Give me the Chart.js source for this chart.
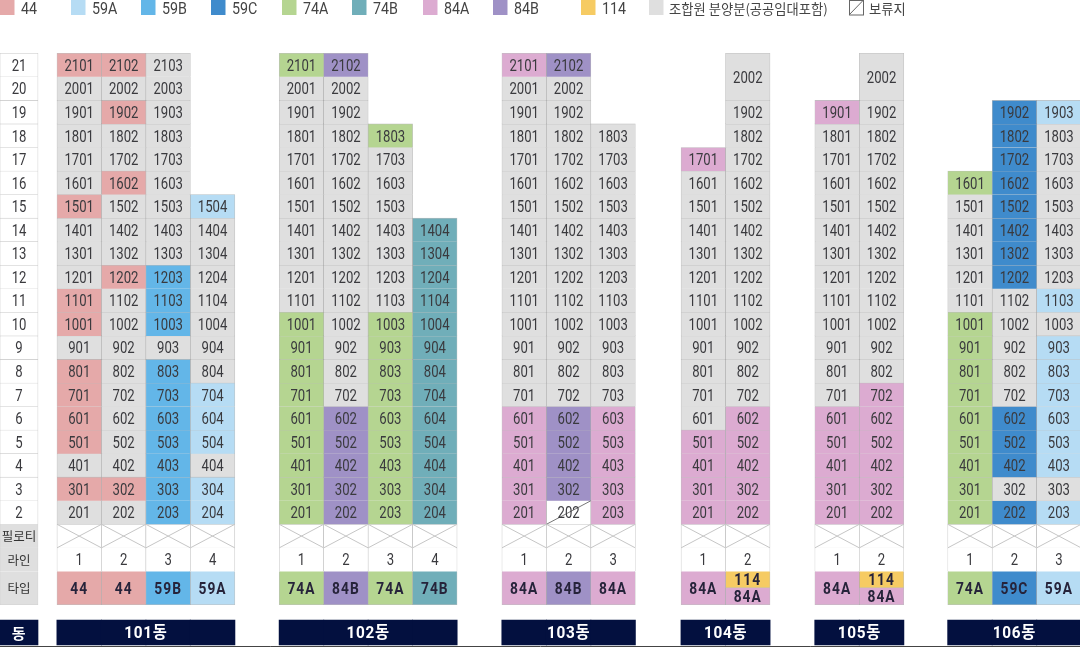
<!DOCTYPE html>
<html>
<head>
<meta charset="utf-8">
<script src="https://cdn.jsdelivr.net/npm/chart.js@4"></script>
<style>
  html, body { margin: 0; padding: 0; background: #fff; overflow: hidden; }
  canvas { display: block; }
</style>
</head>
<body>
<canvas id="myChart" width="1080" height="647"></canvas>
<script>
// unit types per line, listed from floor 2 upward. G = 조합원, H = 보류지, GG = two-floor cell
const line1011 = ['G','44','G','44','44','44','44','G','44','44','G','G','G','44','G','G','G','G','G','44'];
const line1012 = ['G','44','G','G','G','G','G','G','G','G','44','G','G','G','44','G','G','44','G','44'];
const line1013 = ['59B','59B','59B','59B','59B','59B','59B','G','59B','59B','59B','G','G','G','G','G','G','G','G','G'];
const line1014 = ['59A','59A','G','59A','59A','59A','G','G','G','G','G','G','G','59A'];

const line1021 = ['74A','74A','74A','74A','74A','74A','74A','74A','74A','G','G','G','G','G','G','G','G','G','G','74A'];
const line1022 = ['84B','84B','84B','84B','84B','G','G','G','G','G','G','G','G','G','G','G','G','G','G','84B'];
const line1023 = ['74A','74A','74A','74A','74A','74A','74A','74A','74A','G','G','G','G','G','G','G','74A'];
const line1024 = ['74B','74B','74B','74B','74B','74B','74B','74B','74B','74B','74B','74B','74B'];

const line1031 = ['84A','84A','84A','84A','84A','G','G','G','G','G','G','G','G','G','G','G','G','G','G','84A'];
const line1032 = ['H','84B','84B','84B','84B','G','G','G','G','G','G','G','G','G','G','G','G','G','G','84B'];
const line1033 = ['84A','84A','84A','84A','84A','G','G','G','G','G','G','G','G','G','G','G','G'];

const line1041 = ['84A','84A','84A','84A','G','G','G','G','G','G','G','G','G','G','G','84A'];
const line1042 = ['84A','84A','84A','84A','84A','G','G','G','G','G','G','G','G','G','G','G','G','G','GG'];

const line1051 = ['84A','84A','84A','84A','84A','G','G','G','G','G','G','G','G','G','G','G','G','84A'];
const line1052 = ['84A','84A','84A','84A','84A','84A','G','G','G','G','G','G','G','G','G','G','G','G','GG'];

const line1061 = ['74A','74A','74A','74A','74A','74A','74A','74A','74A','G','G','G','G','G','74A'];
const line1062 = ['59C','G','59C','59C','59C','G','G','G','G','G','59C','59C','59C','59C','59C','59C','59C','59C'];
const line1063 = ['59A','G','59A','59A','59A','59A','59A','59A','G','59A','G','G','G','G','G','G','G','59A'];

const typeRow101 = ['44','44','59B','59A'];
const typeRow102 = ['74A','84B','74A','74B'];
const typeRow103 = ['84A','84B','84A'];
const typeRow104 = ['84A',['114','84A']];
const typeRow105 = ['84A',['114','84A']];
const typeRow106 = ['74A','59C','59A'];

const buildingNames = ['101동','102동','103동','104동','105동','106동'];
const buildingColumns = [0, 5, 10.01, 14.04, 17.05, 20.04];
const buildingLines = [
  [line1011, line1012, line1013, line1014],
  [line1021, line1022, line1023, line1024],
  [line1031, line1032, line1033],
  [line1041, line1042],
  [line1051, line1052],
  [line1061, line1062, line1063]
];
const buildingTypes = [typeRow101, typeRow102, typeRow103, typeRow104, typeRow105, typeRow106];

const floorLabels = [21,20,19,18,17,16,15,14,13,12,11,10,9,8,7,6,5,4,3,2];
const legendLabels = ['44','59A','59B','59C','74A','74B','84A','84B','114','조합원 분양분(공공임대포함)','보류지'];
const legendKeys = ['44','59A','59B','59C','74A','74B','84A','84B','114','G','H'];

// colours and layout
const colors = {
  '44': '#e5a9a9', '59A': '#b6dcf4', '59B': '#63b6e8', '59C': '#3f8bcc',
  '74A': '#b5d591', '74B': '#70aeb9', '84A': '#dcabd1', '84B': '#9f91c6',
  '114': '#f6cb63', 'G': '#dfdfdf', 'H': '#ffffff'
};
const legendX = [0, 71, 141, 211, 282, 352, 423, 493, 581, 649, 849];
const KR_FONT = '"Noto Sans CJK KR"';
const CELL_W = 44.45;
const ROW_H = 23.55;
const xMin = -57 / CELL_W - 0.5;
const xMax = (1080 - 57) / CELL_W - 0.5;
const yMax = 1.5 + 524.3 / ROW_H;
const yMin = 1.5 - 121.7 / ROW_H;
const sideX = xMin + 19 / CELL_W;

// y bands for the rows under the floors
const pilotiBand = [0.5, 1.5];
const lineBand = [-0.5, 0.5];
const typeBand = [-1.914, -0.5];
const typeSplit = -1.2;
const dongBand = [-3.626, -2.564];

const cellData = {};
legendKeys.forEach(k => { cellData[k] = []; });
const pilotiData = [];
const lineData = [];
const dongData = [];

buildingLines.forEach((lines, b) => {
  lines.forEach((types, l) => {
    const x = buildingColumns[b] + l;
    const lineNo = l + 1;
    types.forEach((t, i) => {
      const floor = i + 2;
      const text = String(floor * 100 + lineNo);
      if (t === 'GG') {
        cellData.G.push({ x, y: [floor - 0.5, floor + 1.5], text });
      } else {
        cellData[t].push({ x, y: [floor - 0.5, floor + 0.5], text });
      }
    });
    pilotiData.push({ x, y: pilotiBand });
    lineData.push({ x, y: lineBand, text: String(lineNo) });
    dongData.push({ x, y: dongBand });
    const tp = buildingTypes[b][l];
    if (Array.isArray(tp)) {
      cellData[tp[0]].push({ x, y: [typeSplit, typeBand[1]], text: tp[0], bold: true });
      cellData[tp[1]].push({ x, y: [typeBand[0], typeSplit], text: tp[1], bold: true });
    } else {
      cellData[tp].push({ x, y: typeBand, text: tp, bold: true });
    }
  });
});

const sideWhite = floorLabels.map(f => ({ x: sideX, y: [f - 0.5, f + 0.5], text: String(f) }));
const sideGray = [
  { x: sideX, y: pilotiBand, text: '필로티', kr: true },
  { x: sideX, y: lineBand, text: '라인', kr: true },
  { x: sideX, y: typeBand, text: '타입', kr: true }
];
const sideDong = [{ x: sideX, y: dongBand }];

const cellBorder = 'rgba(110,110,110,0.45)';
const datasets = legendKeys.map(k => ({
  label: k,
  data: cellData[k],
  backgroundColor: colors[k],
  borderColor: cellBorder,
  borderWidth: 0.6,
  barThickness: CELL_W
}));
datasets.push({ label: 'piloti', data: pilotiData, backgroundColor: '#fff', borderColor: '#b5b5b5', borderWidth: 0.6, barThickness: CELL_W });
datasets.push({ label: 'line', data: lineData, backgroundColor: '#fff', borderColor: '#c4c4c4', borderWidth: 0.6, barThickness: CELL_W });
datasets.push({ label: 'dong', data: dongData, backgroundColor: '#03103f', barThickness: CELL_W + 0.3 });
datasets.push({ label: 'sideWhite', data: sideWhite, backgroundColor: '#fff', borderColor: '#c4c4c4', borderWidth: 0.6, barThickness: 38 });
datasets.push({ label: 'sideGray', data: sideGray, backgroundColor: colors.G, borderColor: '#d0d0d0', borderWidth: 0.6, barThickness: 38 });
datasets.push({ label: 'sideDong', data: sideDong, backgroundColor: '#03103f', barThickness: 38 });

// no condensed face is installed, so the latin text is squeezed sideways
function squeezedText(ctx, text, x, y, sx) {
  ctx.save();
  ctx.translate(x, y);
  ctx.scale(sx, 1);
  ctx.fillText(text, 0, 0);
  ctx.restore();
}

// crosses, cell numbers, legend and building names
const textPlugin = {
  id: 'cellText',
  afterDatasetsDraw(chart) {
    const ctx = chart.ctx;
    ctx.save();
    ctx.textAlign = 'center';
    ctx.textBaseline = 'middle';

    chart.data.datasets.forEach((ds, i) => {
      chart.getDatasetMeta(i).data.forEach((el, j) => {
        const p = ds.data[j];
        const c = el.getCenterPoint();
        const w = el.width / 2;
        const top = Math.min(el.y, el.base);
        const bottom = Math.max(el.y, el.base);
        if (ds.label === 'piloti') {
          ctx.strokeStyle = '#c6c6c6';
          ctx.lineWidth = 1;
          ctx.beginPath();
          ctx.moveTo(c.x - w, top);
          ctx.lineTo(c.x + w, bottom);
          ctx.moveTo(c.x + w, top);
          ctx.lineTo(c.x - w, bottom);
          ctx.stroke();
        }
        if (ds.label === 'H') {
          ctx.strokeStyle = '#777';
          ctx.lineWidth = 1;
          ctx.beginPath();
          ctx.moveTo(c.x - w, bottom);
          ctx.lineTo(c.x + w, top);
          ctx.stroke();
        }
        if (!p.text) return;
        if (p.bold) {
          ctx.font = 'bold 16px Roboto';
          ctx.letterSpacing = '1.2px';
          ctx.fillStyle = '#26233a';
          squeezedText(ctx, p.text, c.x, c.y + 1.8, 0.86);
        } else if (p.kr) {
          ctx.font = '12.5px ' + KR_FONT;
          ctx.letterSpacing = '0px';
          ctx.fillStyle = '#333';
          ctx.fillText(p.text, c.x, c.y + 0.5);
        } else {
          ctx.font = '16px Roboto';
          ctx.letterSpacing = '0px';
          ctx.fillStyle = '#3a3a3e';
          squeezedText(ctx, p.text, c.x, c.y + 1.8, 0.82);
        }
      });
    });

    // building names on the navy band
    const x = chart.scales.x;
    const y = chart.scales.y;
    const dongY = y.getPixelForValue((dongBand[0] + dongBand[1]) / 2) + 1;
    ctx.fillStyle = '#fff';
    ctx.font = 'bold 17px Roboto, ' + KR_FONT;
    ctx.letterSpacing = '0.8px';
    buildingNames.forEach((name, b) => {
      const mid = buildingColumns[b] + (buildingLines[b].length - 1) / 2;
      squeezedText(ctx, name, x.getPixelForValue(mid), dongY, 0.9);
    });
    ctx.font = 'bold 15px ' + KR_FONT;
    ctx.fillText('동', 19, dongY);

    // legend along the top edge
    ctx.textAlign = 'left';
    ctx.letterSpacing = '0px';
    legendKeys.forEach((k, i) => {
      const lx = legendX[i];
      ctx.fillStyle = colors[k];
      ctx.fillRect(lx, 0, 14.5, 15);
      if (k === 'H') {
        ctx.strokeStyle = '#666';
        ctx.lineWidth = 1;
        ctx.strokeRect(lx + 0.5, 0.5, 14, 14.5);
        ctx.beginPath();
        ctx.moveTo(lx, 15);
        ctx.lineTo(lx + 14.5, 0);
        ctx.stroke();
      }
      ctx.fillStyle = '#444';
      if (i >= 9) {
        ctx.font = '13.3px ' + KR_FONT;
        ctx.fillText(legendLabels[i], lx + 20, 8.5);
      } else {
        ctx.font = '17px Roboto';
        squeezedText(ctx, legendLabels[i], lx + 21, 9.5, 0.84);
      }
    });
    ctx.restore();
  }
};

window.myChart = new Chart(document.getElementById('myChart').getContext('2d'), {
  type: 'bar',
  data: { datasets },
  options: {
    responsive: false,
    animation: false,
    grouped: false,
    layout: { padding: 0 },
    plugins: { legend: { display: false }, tooltip: { enabled: false } },
    scales: {
      x: {
        type: 'linear',
        offset: false,
        min: xMin,
        max: xMax,
        afterFit(scale) { scale.height = 1; },
        ticks: { display: false },
        grid: { display: false, drawTicks: false },
        border: { display: true, color: '#444', width: 1 }
      },
      y: {
        type: 'linear',
        display: false,
        min: yMin,
        max: yMax
      }
    }
  },
  plugins: [textPlugin]
});
</script>
</body>
</html>
